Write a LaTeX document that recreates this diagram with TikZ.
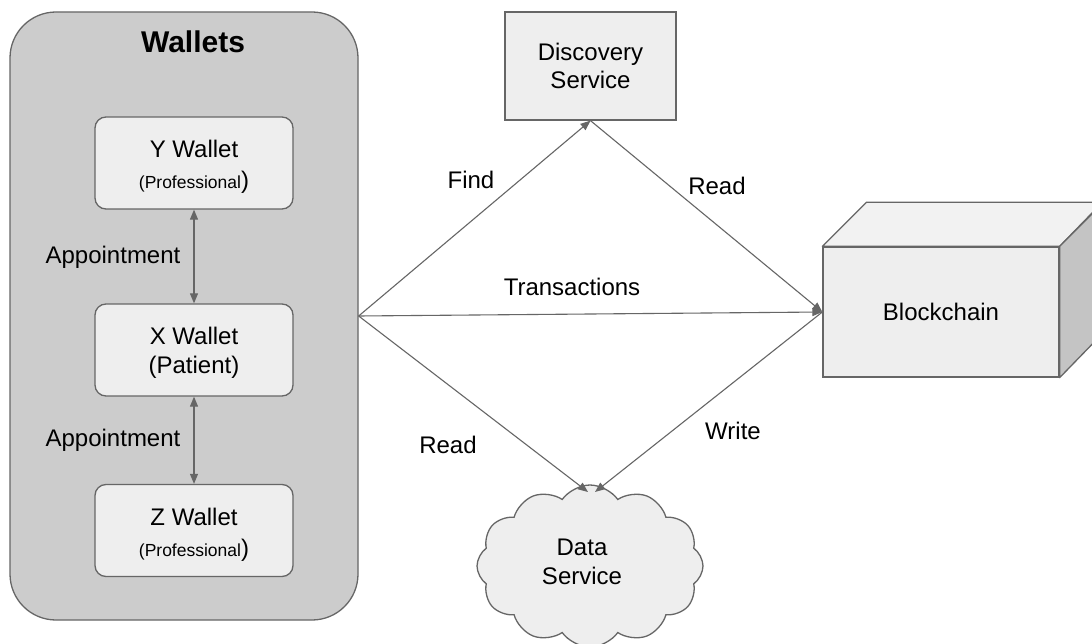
\documentclass[tikz,border=0pt]{standalone}
\usepackage{fontspec}
\setmainfont{Liberation Sans}
\usetikzlibrary{arrows.meta,shapes.symbols}
\definecolor{edgegray}{HTML}{666666}
\definecolor{boxfill}{HTML}{EEEEEE}
\definecolor{groupfill}{HTML}{CCCCCC}
\definecolor{sidefill}{HTML}{C4C4C4}
\definecolor{topfill}{HTML}{F2F2F2}
\tikzset{
  txt/.style={font=\fontsize{24}{29}\selectfont, text=black, align=center, inner sep=0pt},
  walletbox/.style={draw=edgegray, line width=1.3pt, fill=boxfill, rounded corners=11pt,
    minimum width=198pt, minimum height=92pt, inner sep=0pt, align=center,
    font=\fontsize{24}{31}\selectfont},
  conn/.style={draw=edgegray, line width=1.1pt, -{Triangle[length=10pt,width=8pt]}},
  dconn/.style={draw=edgegray, line width=1.1pt, {Triangle[length=10pt,width=8pt]}-{Triangle[length=10pt,width=8pt]}},
}
\newcommand{\prof}{{\fontsize{17.5}{20}\selectfont(Professional}{)}}
\begin{document}
\begin{tikzpicture}[x=1pt,y=-1pt]
\clip (0,0) rectangle (1092,644);
\fill[white] (0,0) rectangle (1092,644);
% Wallets group
\node[draw=edgegray, line width=1.3pt, fill=groupfill, rounded corners=46pt,
  minimum width=348pt, minimum height=608pt, inner sep=0pt] (wallets) at (184,316) {};
\node[txt, font=\fontsize{30}{36}\selectfont\bfseries] (wtitle) at (193,42) {Wallets};
\node[walletbox] (yw) at (194,163) {\rule{0pt}{25pt}Y Wallet\\\prof};
\node[walletbox, font=\fontsize{24}{29}\selectfont] (xw) at (194,350) {\rule{0pt}{23.5pt}X Wallet\\(Patient)};
\node[walletbox] (zw) at (194,530.5) {\rule{0pt}{25pt}Z Wallet\\\prof};
\draw[dconn] (yw.south) -- (xw.north);
\draw[dconn] (xw.south) -- (zw.north);
\node[txt] (ap1) at (113,257) {Appointment};
\node[txt] (ap2) at (113,440) {Appointment};
% Discovery
\node[draw=edgegray, line width=1.3pt, fill=boxfill, minimum width=171pt, minimum height=108pt,
  inner sep=0pt, align=center, font=\fontsize{24}{28}\selectfont] (disc) at (590.5,66) {Discovery\\Service};
% Blockchain cube
\node[draw=edgegray, line width=1.3pt, fill=boxfill, minimum width=236pt, minimum height=130pt,
  inner sep=0pt, font=\fontsize{24}{29}\selectfont] (bc) at (941,312) {Blockchain};
\draw[edgegray, line width=1.3pt, fill=topfill, line join=round]
  (bc.north west) -- ++(44,-44) -- ++(236,0) -- (bc.north east) -- cycle;
\draw[edgegray, line width=1.3pt, fill=sidefill, line join=round]
  (bc.north east) -- ++(44,-44) -- ++(0,130) -- (bc.south east) -- cycle;
% Data service cloud
\node[cloud, cloud puffs=12, cloud puff arc=110, aspect=1.4, draw=edgegray, line width=1.3pt,
  fill=boxfill, minimum width=226pt, minimum height=162pt, inner sep=0pt] (ds) at (590,566) {};
\node[txt, font=\fontsize{24}{29}\selectfont] (dstext) at (582,562) {Data\\Service};
\coordinate (dsread) at (588,492);
\coordinate (dswrite) at (595,492);
% connectors
\draw[conn] (wallets.east) -- (disc.south);
\draw[conn] (disc.south) -- (bc.west);
\draw[conn] (wallets.east) -- (bc.west);
\draw[conn] (wallets.east) -- (dsread);
\draw[conn] (bc.west) -- (dswrite);
% labels
\node[txt] (lfind) at (471,180) {Find};
\node[txt] (lread1) at (717,186) {Read};
\node[txt] (ltrans) at (572,287) {Transactions};
\node[txt] (lread2) at (448,445) {Read};
\node[txt] (lwrite) at (733,431) {Write};
\end{tikzpicture}
\end{document}
